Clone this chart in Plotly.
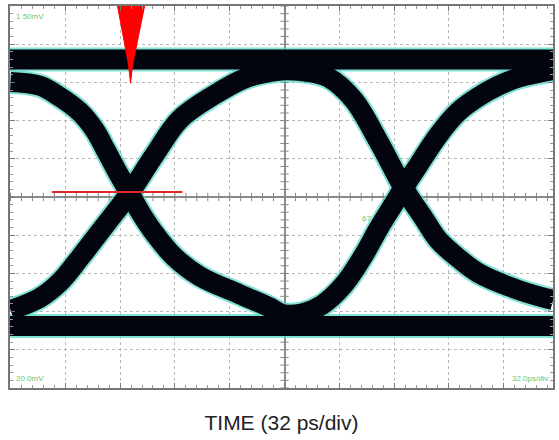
import numpy as np
import plotly.graph_objects as go

# ---- data (time in ps, level in vertical divisions) ----
t_left, t_right = -160.3, 156.8
top_rail_level = 3.60
bottom_rail_level = -3.38

# "010" trace: rises through left crossing, peaks mid-eye, falls through right crossing
hump_t = [-160.0, -142.8, -131.2, -119.6, -107.9, -99.2, -90.5, -75.9, -61.4, -42.2,
          -22.4, -9.0, 0.9, 14.3, 25.9, 40.4, 55.0, 69.5, 81.2, 89.9, 101.5, 113.2,
          136.4, 156.8]
hump_v = [-2.96, -2.64, -2.23, -1.60, -0.92, -0.42, 0.10, 1.10, 2.02, 2.64,
          3.12, 3.27, 3.32, 3.27, 3.12, 2.54, 1.45, 0.24, -0.55, -1.13, -1.60, -1.99,
          -2.43, -2.70]

# "101" trace: falls through left crossing, bottoms mid-eye, rises through right crossing
trough_t = [-160.0, -142.8, -131.2, -119.6, -110.8, -104.4, -97.5, -90.5, -83.5, -74.8,
            -64.3, -49.7, -26.5, -9.0, -1.5, 10.0, 21.8, 34.6, 46.3, 55.0, 63.7, 69.5, 78.3,
            89.9, 101.5, 113.2, 124.8, 136.4, 156.8]
trough_v = [3.01, 2.91, 2.62, 2.23, 1.75, 1.23, 0.65, 0.10, -0.45, -1.02,
            -1.57, -2.07, -2.54, -2.88, -3.06, -3.05, -2.83, -2.30, -1.52, -0.82, -0.19, 0.24, 0.84,
            1.62, 2.23, 2.62, 2.91, 3.12, 3.32]

# trigger marker and crossing cursor
trigger_t = [-97.5, -81.7, -88.7, -89.9, -91.1, -97.5]
trigger_v = [5.0, 5.0, 3.46, 2.98, 3.46, 5.0]
cursor_t = [-135.9, -59.6]
cursor_v = [0.13, 0.13]

x_title = "TIME (32 ps/div)"
labels = [("1 50mV", -158, 4.72, "left"), ("20.0mV", -158, -4.75, "left"),
          ("32.0ps/div", 155, -4.75, "right"), ("67", 44, -0.55, "left")]

BLACK = "#02050d"
HALO = "rgba(90,215,200,0.75)"
W = 20

fig = go.Figure()

# graticule minor ticks on the centre lines (drawn under the traces)
minor_x = np.arange(-160, 157, 6.4)
minor_y = np.arange(-5, 5.01, 0.2)
fig.add_trace(go.Scatter(x=minor_x, y=[0] * len(minor_x), mode="markers",
                         marker=dict(symbol="line-ns", size=6,
                                     line=dict(color="#888", width=1)),
                         hoverinfo="skip", showlegend=False))
fig.add_trace(go.Scatter(x=[0] * len(minor_y), y=minor_y, mode="markers",
                         marker=dict(symbol="line-ew", size=6,
                                     line=dict(color="#888", width=1)),
                         hoverinfo="skip", showlegend=False))

curves = [
    ([t_left, t_right], [top_rail_level, top_rail_level], "linear"),
    ([t_left, t_right], [bottom_rail_level, bottom_rail_level], "linear"),
    (hump_t, hump_v, "spline"),
    (trough_t, trough_v, "spline"),
]
for xs, ys, shp in curves:
    fig.add_trace(go.Scatter(x=xs, y=ys, mode="lines",
                             line=dict(color=HALO, width=W + 4, shape=shp, smoothing=1.0),
                             hoverinfo="skip", showlegend=False))
for xs, ys, shp in curves:
    fig.add_trace(go.Scatter(x=xs, y=ys, mode="lines",
                             line=dict(color=BLACK, width=W, shape=shp, smoothing=1.0),
                             hoverinfo="skip", showlegend=False))

# red cursor + trigger spike
fig.add_trace(go.Scatter(x=cursor_t, y=cursor_v, mode="lines",
                         line=dict(color="#e02828", width=2),
                         hoverinfo="skip", showlegend=False))
fig.add_trace(go.Scatter(x=trigger_t, y=trigger_v, mode="lines", fill="toself",
                         fillcolor="#ff0000", line=dict(color="#ff0000", width=1),
                         hoverinfo="skip", showlegend=False))

for txt, x, y, anc in labels:
    fig.add_annotation(x=x, y=y, text=txt, showarrow=False, xanchor=anc,
                       font=dict(family="Liberation Sans", size=8, color="#6cc46c"))

fig.update_layout(
    width=559, height=440,
    margin=dict(l=10, r=4, t=6, b=52),
    paper_bgcolor="white", plot_bgcolor="white",
    font=dict(family="Liberation Sans, Arial, sans-serif", color="#222"),
    xaxis=dict(range=[t_left, t_right], tick0=0, dtick=32, showticklabels=False,
               showgrid=True, gridcolor="#b8b8b8", griddash="dot", gridwidth=1,
               zeroline=True, zerolinecolor="#8a8a8a", zerolinewidth=1.5,
               showline=True, linecolor="#777", linewidth=2, mirror="allticks",
               ticks="inside", ticklen=5, tickcolor="#777",
               minor=dict(ticks="inside", ticklen=3, dtick=6.4, tickcolor="#999"),
               title=dict(text=x_title, font=dict(size=21, color="#222"), standoff=26)),
    yaxis=dict(range=[-5, 5], tick0=0, dtick=1, showticklabels=False,
               showgrid=True, gridcolor="#b8b8b8", griddash="dot", gridwidth=1,
               zeroline=True, zerolinecolor="#8a8a8a", zerolinewidth=1.5,
               showline=True, linecolor="#777", linewidth=2, mirror="allticks",
               ticks="inside", ticklen=5, tickcolor="#777",
               minor=dict(ticks="inside", ticklen=3, dtick=0.2, tickcolor="#999")),
)

fig.write_html("out.html", config={"displayModeBar": False},
               post_script="document.body.style.margin='0';document.body.style.overflow='hidden';")
